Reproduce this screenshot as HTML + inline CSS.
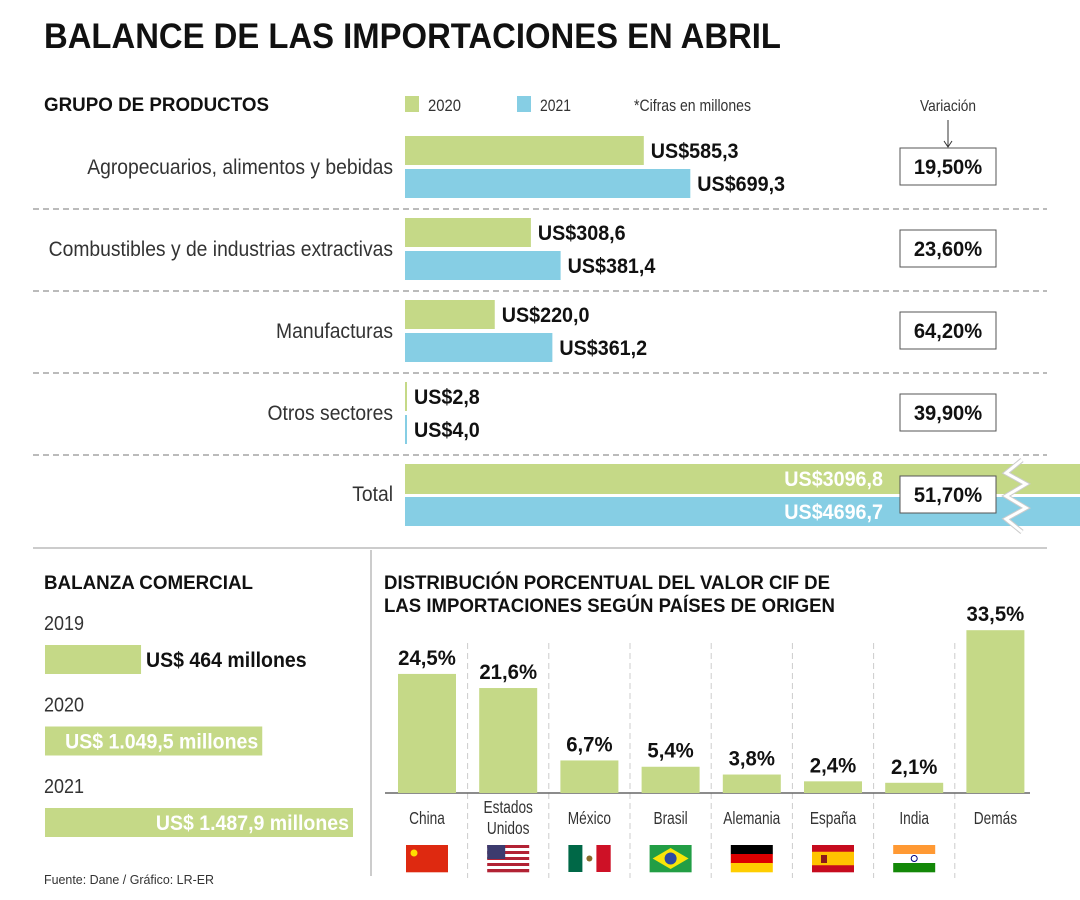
<!DOCTYPE html>
<html><head><meta charset="utf-8">
<style>
html,body{margin:0;padding:0;background:#fff;}
svg{display:block;font-family:"Liberation Sans Narrow","Liberation Sans",sans-serif;}
.b{font-weight:bold;}
</style></head>
<body>
<svg id="chart" width="1080" height="900" viewBox="0 0 1080 900" xmlns="http://www.w3.org/2000/svg">
<text x="44" y="48" font-size="35" class="b" fill="#111" textLength="737" lengthAdjust="spacingAndGlyphs">BALANCE DE LAS IMPORTACIONES EN ABRIL</text>
<text x="44" y="111" font-size="19" class="b" fill="#111" textLength="225" lengthAdjust="spacingAndGlyphs">GRUPO DE PRODUCTOS</text>
<rect x="405" y="96" width="14" height="16" fill="#c5d987"/>
<text x="428" y="111" font-size="17" fill="#333" textLength="33" lengthAdjust="spacingAndGlyphs">2020</text>
<rect x="517" y="96" width="14" height="16" fill="#86cee4"/>
<text x="540" y="111" font-size="17" fill="#333" textLength="31" lengthAdjust="spacingAndGlyphs">2021</text>
<text x="634" y="111" font-size="17" fill="#333" textLength="117" lengthAdjust="spacingAndGlyphs">*Cifras en millones</text>
<text x="920" y="111" font-size="16" fill="#333" textLength="56" lengthAdjust="spacingAndGlyphs">Variación</text>
<line x1="948" y1="120" x2="948" y2="146" stroke="#333" stroke-width="1"/>
<path d="M944 141 L948 147 L952 141" fill="none" stroke="#333"/>
<g id="topchart"></g>
<line x1="33" y1="548" x2="1047" y2="548" stroke="#ccc" stroke-width="2"/>
<line x1="371" y1="550" x2="371" y2="876" stroke="#ccc" stroke-width="2"/>
<text x="44" y="589" font-size="19" class="b" fill="#111" textLength="209" lengthAdjust="spacingAndGlyphs">BALANZA COMERCIAL</text>
<g id="bal"></g>
<text x="44" y="884" font-size="13" fill="#333" textLength="170" lengthAdjust="spacingAndGlyphs">Fuente: Dane / Gráfico: LR-ER</text>
<text x="384" y="589" font-size="19" class="b" fill="#111" textLength="446" lengthAdjust="spacingAndGlyphs">DISTRIBUCIÓN PORCENTUAL DEL VALOR CIF DE</text>
<text x="384" y="612" font-size="19" class="b" fill="#111" textLength="451" lengthAdjust="spacingAndGlyphs">LAS IMPORTACIONES SEGÚN PAÍSES DE ORIGEN</text>
<g id="cty"></g>
</svg>
<script>
const categories = ["Agropecuarios, alimentos y bebidas","Combustibles y de industrias extractivas","Manufacturas","Otros sectores"];
const values2020 = [585.3, 308.6, 220.0, 2.8];
const values2021 = [699.3, 381.4, 361.2, 4.0];
const variations = ["19,50%","23,60%","64,20%","39,90%"];
const total2020 = 3096.8, total2021 = 4696.7, totalVar = "51,70%";
const balanceYears = ["2019","2020","2021"];
const balanceValues = [464, 1049.5, 1487.9];
const balanceLabels = ["US$ 464 millones","US$ 1.049,5 millones","US$ 1.487,9 millones"];
const countries = ["China","Estados Unidos","México","Brasil","Alemania","España","India","Demás"];
const countryShares = [24.5, 21.6, 6.7, 5.4, 3.8, 2.4, 2.1, 33.5];

const NS = "http://www.w3.org/2000/svg";
function mk(parent, tag, attrs, text, sx){
  const e = document.createElementNS(NS, tag);
  for (const k in attrs) e.setAttribute(k, attrs[k]);
  if (text !== undefined) e.textContent = text;
  if (tag === 'text') {
    const s = sx || 0.92, x = +attrs.x;
    e.setAttribute('transform', 'matrix(' + s + ',0,0,1,' + (x * (1 - s)) + ',0)');
  }
  parent.appendChild(e); return e;
}
const fmt = v => v.toFixed(1).replace('.', ',');
const GREEN="#c5d987", BLUE="#86cee4";
const SB = 0.94;

// top chart
const topG = document.getElementById('topchart');
const x0 = 405, xs = v => v * 0.408;
categories.forEach((c, i) => {
  const y = 136 + i * 82;
  let t = mk(topG, 'text', {x:393, y:y+38, 'font-size':21, fill:'#333', 'text-anchor':'end'}, c, 0.92);
  
  
  const w1 = Math.max(xs(values2020[i]), 2), w2 = Math.max(xs(values2021[i]), 2);
  let r = mk(topG, 'rect', {x:x0, y:y, width:w1, height:29, fill:GREEN});
  
  
  r = mk(topG, 'rect', {x:x0, y:y+33, width:w2, height:29, fill:BLUE});
  
  
  t = mk(topG, 'text', {x:x0+w1+7, y:y+22, 'font-size':21, class:'b', fill:'#111'}, 'US$' + fmt(values2020[i]), SB);
  
  
  t = mk(topG, 'text', {x:x0+w2+7, y:y+55, 'font-size':21, class:'b', fill:'#111'}, 'US$' + fmt(values2021[i]), SB);
  
  
  r = mk(topG, 'rect', {x:900, y:y+12, width:96, height:37, fill:'#fff', stroke:'#555', 'stroke-width':1});
  
  
  t = mk(topG, 'text', {x:948, y:y+38, 'font-size':21, class:'b', fill:'#111', 'text-anchor':'middle'}, variations[i], 0.96);
  
  
  const l = mk(topG, 'line', {x1:33, y1:y+73, x2:1047, y2:y+73, stroke:'#bbb', 'stroke-width':2, 'stroke-dasharray':'6 4'});
  
  
});
// total
{
  const y = 464;
  let t = mk(topG, 'text', {x:393, y:y+37, 'font-size':21, fill:'#333', 'text-anchor':'end'}, 'Total', 0.92);
  
  
  let r = mk(topG, 'rect', {x:x0, y:y, width:1080-x0, height:30, fill:GREEN});
  
  
  r = mk(topG, 'rect', {x:x0, y:y+33, width:1080-x0, height:29, fill:BLUE});
  
  
  t = mk(topG, 'text', {x:883, y:y+22, 'font-size':21, class:'b', fill:'#fff', 'text-anchor':'end'}, 'US$' + fmt(total2020), SB);
  
  
  t = mk(topG, 'text', {x:883, y:y+55, 'font-size':21, class:'b', fill:'#fff', 'text-anchor':'end'}, 'US$' + fmt(total2021), SB);
  
  
  const zz = 'M1022 460 L1006 473 L1026 484 L1006 496 L1026 508 L1006 519 L1022 532';
  const p2 = mk(topG, 'path', {d:zz, fill:'none', stroke:'#ccc', 'stroke-width':5});
  
  
  const p = mk(topG, 'path', {d:zz, fill:'none', stroke:'#fff', 'stroke-width':3});
  
  
  r = mk(topG, 'rect', {x:900, y:y+12, width:96, height:37, fill:'#fff', stroke:'#555'});
  
  
  t = mk(topG, 'text', {x:948, y:y+38, 'font-size':21, class:'b', fill:'#111', 'text-anchor':'middle'}, totalVar, 0.96);
  
  
}

// balance
const bal = document.getElementById('bal');
balanceYears.forEach((yr, i) => {
  const y = 645 + i * 81.5;
  const w = balanceValues[i] * 0.207;
  let t = mk(bal, 'text', {x:44, y:y-15, 'font-size':20, fill:'#333'}, yr, 0.9);
  
  
  const r = mk(bal, 'rect', {x:45, y:y, width:w, height:29, fill:GREEN});
  
  
  const inside = i > 0;
  t = mk(bal, 'text', {x: inside ? 45+w-4 : 45+w+5, y:y+22, 'font-size':21, class:'b', fill: inside ? '#fff' : '#111', 'text-anchor': inside ? 'end' : 'start'}, balanceLabels[i], 0.93);
  
  
});

// countries
const cty = document.getElementById('cty');
const base = 793, ys = v => v * 4.86, cx = i => 427 + i * 81.2;
for (let i = 0; i < countries.length - 1; i++) {
  const l = mk(cty, 'line', {x1:cx(i)+40.6, y1:643, x2:cx(i)+40.6, y2:878, stroke:'#ccc', 'stroke-dasharray':'6 4'});
  
  
}
const ax = mk(cty, 'line', {x1:385, y1:base, x2:1030, y2:base, stroke:'#666', 'stroke-width':1.5});


countries.forEach((c, i) => {
  const h = ys(countryShares[i]);
  const r = mk(cty, 'rect', {x:cx(i)-29, y:base-h, width:58, height:h, fill:GREEN});
  
  
  let t = mk(cty, 'text', {x:cx(i), y:base-h-9, 'font-size':21, class:'b', fill:'#111', 'text-anchor':'middle'}, fmt(countryShares[i]) + '%', 0.97);
  
  
  const parts = c === 'Estados Unidos' ? ['Estados','Unidos'] : [c];
  const y0 = parts.length > 1 ? 813 : 824;
  parts.forEach((p, k) => {
    const tt = mk(cty, 'text', {x:cx(i), y:y0 + k*21, 'font-size':18, fill:'#333', 'text-anchor':'middle'}, p, 0.76);
    
    
  });
});
// flags
function flag(i, stripes, dir, extra){
  const g = document.createElementNS(NS, 'g');
  g.setAttribute('transform', 'translate(' + (cx(i)-21) + ',845)');
  
  
  cty.appendChild(g);
  const n = stripes.length;
  stripes.forEach((col, k) => {
    if (dir === 'h') mk(g, 'rect', {x:0, y:k*27/n, width:42, height:27/n+0.3, fill:col});
    else mk(g, 'rect', {x:k*42/n, y:0, width:42/n+0.3, height:27, fill:col});
  });
  if (extra) extra(g);
}
flag(0, ['#de2910'], 'h', g => { mk(g,'circle',{cx:8,cy:8,r:3.5,fill:'#ffde00'}); });
flag(1, ['#b22234','#fff','#b22234','#fff','#b22234','#fff','#b22234','#fff','#b22234'], 'h', g => { mk(g,'rect',{x:0,y:0,width:18,height:14,fill:'#3c3b6e'}); });
flag(2, ['#006847','#fff','#ce1126'], 'v', g => { mk(g,'circle',{cx:21,cy:13.5,r:3,fill:'#8a6a2a'}); });
flag(3, ['#229e45'], 'h', g => { mk(g,'path',{d:'M21 3 L39 13.5 L21 24 L3 13.5 Z',fill:'#f8e509'}); mk(g,'circle',{cx:21,cy:13.5,r:6,fill:'#2b49a3'}); });
flag(4, ['#000','#dd0000','#ffce00'], 'h');
flag(5, ['#c60b1e','#ffc400','#ffc400','#c60b1e'], 'h', g => { mk(g,'rect',{x:9,y:10,width:6,height:8,fill:'#8b1a1a'}); });
flag(6, ['#ff9933','#fff','#138808'], 'h', g => { mk(g,'circle',{cx:21,cy:13.5,r:3,fill:'none',stroke:'#000080'}); });
</script>
</body></html>
